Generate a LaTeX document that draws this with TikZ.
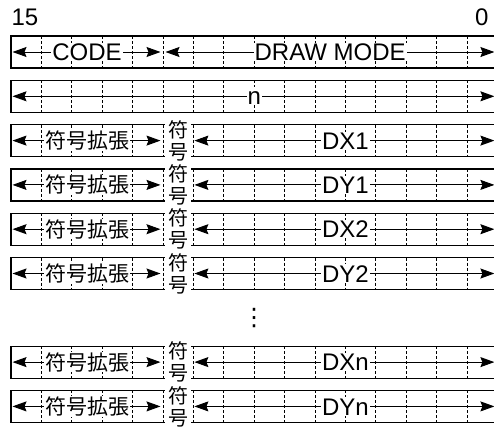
\documentclass[tikz,border=0pt]{standalone}
\usepackage{fontspec}
\setmainfont{Liberation Sans}
\newfontfamily\jpfont{Noto Sans CJK JP}
\newfontfamily\symfont{DejaVu Sans}
\usetikzlibrary{arrows.meta}
\begin{document}
\begin{tikzpicture}[x=1pt,y=-1pt,
  rowbox/.style={draw,line width=1.2pt,minimum width=486.4pt,minimum height=32pt,anchor=north west,inner sep=0pt,outer sep=0pt},
  divider/.style={line width=0.9pt,dash pattern=on 3pt off 2pt},
  dbl/.style={line width=1pt,{Stealth[length=14pt,width=10pt,inset=2pt]}-{Stealth[length=14pt,width=10pt,inset=2pt]}},
  lbl/.style={fill=white,inner xsep=1pt,inner ysep=0.5pt,text height=17.2pt,text depth=0pt,font=\fontsize{24}{28}\selectfont},
  jlbl/.style={fill=white,inner xsep=1pt,inner ysep=0.5pt,font=\jpfont\fontsize{21}{25}\selectfont},
  sgn/.style={fill=white,inner xsep=0pt,inner ysep=1.5pt,minimum width=26pt,align=center,font=\jpfont\fontsize{20}{22}\selectfont},
  bitno/.style={anchor=base,inner sep=0pt,font=\fontsize{24}{28}\selectfont}]
\useasboundingbox (0,0) rectangle (494,426);
\clip (0,0) rectangle (494,426);
% rows, dividers and coordinates
\foreach \i in {0,1,2,3,4,5,7,8}{
  \pgfmathsetmacro\tp{36+44.3*\i}
  \node[rowbox] (box\i) at (11,\tp) {};
  \coordinate (s\i) at (163,\tp+16);
  \coordinate (t\i) at (193.4,\tp+16);
  \coordinate (m\i) at (178.2,\tp+16);
  \foreach \k in {1,...,15}{
    \draw[divider] (11+30.4*\k,\tp) -- (11+30.4*\k,\tp+32);
  }
}
% bit numbers
\node[bitno] (b15) at (25,25) {15};
\node[bitno] (b0) at (481.7,25) {0};
% row 0
\draw[dbl,shorten <=1.5pt,shorten >=2.5pt] (box0.west) -- (s0) node[lbl,midway] (code) {CODE};
\draw[dbl,shorten <=2.5pt,shorten >=3pt] (s0) -- (box0.east) node[lbl,midway] (mode) {DRAW MODE};
% row 1
\draw[dbl,shorten <=1.5pt,shorten >=3pt] (box1.west) -- (box1.east) node[lbl,midway] (n) {n};
% data rows
\foreach \i/\lab in {2/DX1,3/DY1,4/DX2,5/DY2,7/DXn,8/DYn}{
  \draw[dbl,shorten <=1.5pt,shorten >=2.5pt] (box\i.west) -- (s\i) node[jlbl,midway] (ext\i) {符号拡張};
  \draw[dbl,shorten <=1pt,shorten >=3pt] (t\i) -- (box\i.east) node[lbl,midway] (val\i) {\lab};
  \node[sgn] (sg\i) at (m\i) {符\\号};
}
% ellipsis
\node[inner sep=0pt,font=\symfont\fontsize{24}{28}\selectfont] (dots) at (254,318) {⋮};
\end{tikzpicture}
\end{document}
